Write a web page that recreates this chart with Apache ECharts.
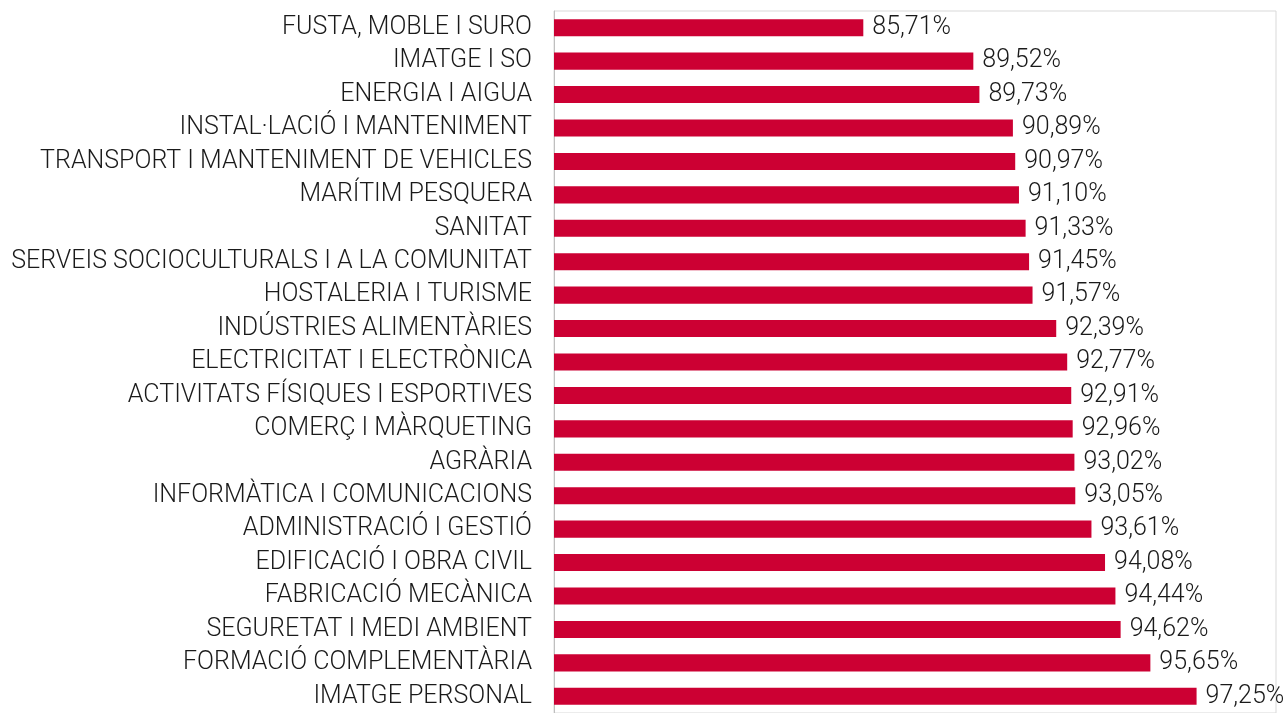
<!DOCTYPE html>
<html>
<head>
<meta charset="utf-8">
<script src="https://cdn.jsdelivr.net/npm/echarts@6/dist/echarts.min.js"></script>
<style>
  html, body { margin: 0; padding: 0; background: #fff; }
  #chart { width: 1288px; height: 713px; }
</style>
</head>
<body>
<div id="chart"></div>
<script>
  // famílies professionals, de dalt a baix
  const families = [
    'FUSTA, MOBLE I SURO', 'IMATGE I SO', 'ENERGIA I AIGUA', 'INSTAL·LACIÓ I MANTENIMENT',
    'TRANSPORT I MANTENIMENT DE VEHICLES', 'MARÍTIM PESQUERA', 'SANITAT',
    'SERVEIS SOCIOCULTURALS I A LA COMUNITAT', 'HOSTALERIA I TURISME',
    'INDÚSTRIES ALIMENTÀRIES', 'ELECTRICITAT I ELECTRÒNICA',
    'ACTIVITATS FÍSIQUES I ESPORTIVES', 'COMERÇ I MÀRQUETING', 'AGRÀRIA',
    'INFORMÀTICA I COMUNICACIONS', 'ADMINISTRACIÓ I GESTIÓ', 'EDIFICACIÓ I OBRA CIVIL',
    'FABRICACIÓ MECÀNICA', 'SEGURETAT I MEDI AMBIENT', 'FORMACIÓ COMPLEMENTÀRIA',
    'IMATGE PERSONAL'
  ];
  const percentatges = [
    85.71, 89.52, 89.73, 90.89, 90.97, 91.10, 91.33, 91.45, 91.57, 92.39, 92.77,
    92.91, 92.96, 93.02, 93.05, 93.61, 94.08, 94.44, 94.62, 95.65, 97.25
  ];

  const chart = echarts.init(document.getElementById('chart'));
  const font = 'Roboto';
  chart.setOption({
    animation: false,
    grid: {
      left: 554, right: 12, top: 11, height: 708,
      show: true, borderColor: '#d9d9d9', borderWidth: 1
    },
    xAxis: {
      type: 'value', min: 75, max: 100, show: false
    },
    yAxis: {
      type: 'category',
      data: families,
      inverse: true,
      axisLine: { lineStyle: { color: '#bfbfbf' } },
      axisTick: { length: 11, lineStyle: { color: '#bfbfbf' } },
      axisLabel: { margin: 22, color: '#1a1a1a', fontSize: 25, fontFamily: font, fontWeight: 300 }
    },
    series: [{
      type: 'bar',
      data: percentatges,
      barCategoryGap: '49%',
      itemStyle: { color: '#cc0033' },
      label: {
        show: true, position: 'right', distance: 9,
        color: '#1a1a1a', fontSize: 25, fontFamily: font, fontWeight: 300,
        formatter: p => p.value.toFixed(2).replace('.', ',') + '%'
      }
    }]
  });
</script>
</body>
</html>
